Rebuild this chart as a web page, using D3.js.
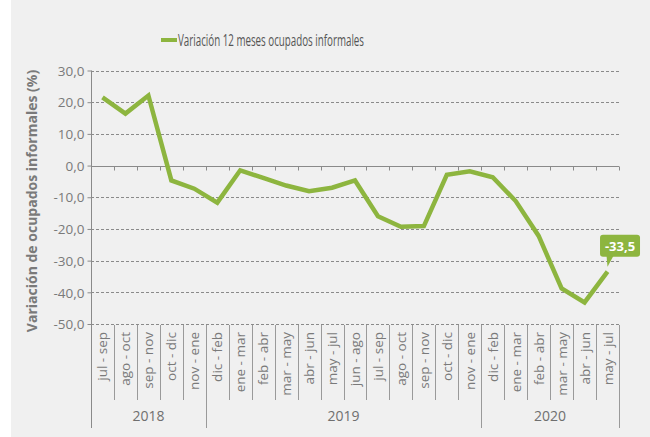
<!DOCTYPE html>
<html><head><meta charset="utf-8">
<script src="https://cdn.jsdelivr.net/npm/d3@7"></script>
<style>
html,body{margin:0;padding:0;background:#fff;}
svg{display:block;}
text{font-family:"Open Sans",sans-serif;}
</style></head>
<body>
<svg id="c" width="650" height="437"></svg>
<script>
const categories = ["jul - sep","ago - oct","sep - nov","oct - dic","nov - ene",
  "dic - feb","ene - mar","feb - abr","mar - may","abr - jun","may - jul","jun - ago","jul - sep","ago - oct","sep - nov","oct - dic","nov - ene",
  "dic - feb","ene - mar","feb - abr","mar - may","abr - jun","may - jul"];
const values = [21.5,16.4,22.1,-4.7,-7.3,-11.7,-1.5,-3.9,-6.3,-8.1,-7.0,-4.7,-16.0,-19.3,-19.1,-2.9,-1.8,-3.7,-11.2,-22.2,-38.8,-43.2,-33.5];
const years = ["2018","2019","2020"];
const yearCounts = [5,12,6];
const yTicks = [30,20,10,0,-10,-20,-30,-40,-50];
const seriesName = "Variación 12 meses ocupados informales";
const yTitle = "Variación de ocupados informales (%)";
const lastLabel = "-33,5";

const green = "#8db53f";
const svg = d3.select("#c");
svg.append("rect").attr("x",11).attr("y",0).attr("width",639).attr("height",437).attr("fill","#f0f0f0");

const x0 = 91, x1 = 619, yTop = 70.5, yBot = 324;
const x = d3.scaleBand().domain(d3.range(categories.length)).range([x0,x1]).padding(0);
const y = d3.scaleLinear().domain([-50,30]).range([yBot,yTop]);

// grid
const g = svg.append("g");
yTicks.forEach(t=>{
  if(t===0) return;
  g.append("line").attr("x1",x0).attr("x2",x1).attr("y1",Math.round(y(t))+0.5).attr("y2",Math.round(y(t))+0.5)
   .attr("stroke","#8a8a8a").attr("stroke-width",1).attr("stroke-dasharray","3,2");
});
// y axis
const yAxis = d3.axisLeft(y).tickValues(yTicks).tickSize(4).tickFormat(d=>d3.format(".1f")(d).replace(".",",").replace("−","-"));
const ya = svg.append("g").attr("transform",`translate(${x0+0.5},0)`).call(yAxis);
ya.select(".domain").remove();
ya.selectAll(".tick line").attr("stroke","#8a8a8a");
ya.selectAll(".tick text").attr("fill","#7a7a7a").style("font-size","13.5px").attr("x",-7).attr("dy","0.35em");
svg.append("line").attr("x1",x0+0.5).attr("x2",x0+0.5).attr("y1",yTop).attr("y2",428).attr("stroke","#8a8a8a");

// zero axis with ticks
const zy = Math.round(y(0))+0.5;
svg.append("line").attr("x1",x0).attr("x2",x1).attr("y1",zy).attr("y2",zy).attr("stroke","#8a8a8a");
d3.range(categories.length+1).forEach(i=>{
  const xx = Math.round(x0 + i*x.step())+0.5;
  svg.append("line").attr("x1",xx).attr("x2",xx).attr("y1",zy).attr("y2",zy+4).attr("stroke","#8a8a8a");
});

// category labels and separators
categories.forEach((c,i)=>{
  const cx = x(i)+x.bandwidth()/2;
  svg.append("text").attr("transform",`translate(${cx+5},332) rotate(-90)`)
    .attr("text-anchor","end").attr("fill","#7a7a7a").style("font-size","13.5px").text(c);
  if(i>0){
    const xx = Math.round(x(i))+0.5;
    svg.append("line").attr("x1",xx).attr("x2",xx).attr("y1",325).attr("y2",400).attr("stroke","#9a9a9a");
  }
});
svg.append("line").attr("x1",x1+0.5).attr("x2",x1+0.5).attr("y1",325).attr("y2",428).attr("stroke","#9a9a9a");
// year groups
let start = 0;
years.forEach((yr,k)=>{
  const a = x0 + start*x.step(), b = x0 + (start+yearCounts[k])*x.step();
  svg.append("text").attr("x",(a+b)/2).attr("y",421).attr("text-anchor","middle")
    .attr("fill","#6f6f6f").style("font-size","14px").text(yr);
  start += yearCounts[k];
  if(k<years.length-1){
    const xx = Math.round(b)+0.5;
    svg.append("line").attr("x1",xx).attr("x2",xx).attr("y1",400).attr("y2",428).attr("stroke","#9a9a9a");
  }
});

// line
const line = d3.line().x((d,i)=>x(i)+x.bandwidth()/2).y(d=>y(d));
svg.append("path").datum(values).attr("d",line).attr("fill","none").attr("stroke",green)
  .attr("stroke-width",4.5).attr("stroke-linejoin","miter");

// callout
const li = values.length-1;
const px = x(li)+x.bandwidth()/2, py = y(values[li]);
const cg = svg.append("g");
cg.append("rect").attr("x",px-7.5).attr("y",py-37).attr("width",40).attr("height",22).attr("rx",3).attr("fill",green);
cg.append("path").attr("d",`M${px-1},${py-16} L${px+6},${py-16} L${px},${py-5} Z`).attr("fill",green);
cg.append("text").attr("x",px+12.5).attr("y",py-21).attr("text-anchor","middle").attr("fill","#fff")
  .style("font-size","13px").style("font-weight","bold").text(lastLabel);

// legend
svg.append("line").attr("x1",161).attr("x2",177).attr("y1",40).attr("y2",40).attr("stroke",green).attr("stroke-width",4);
svg.append("text").attr("x",178).attr("y",45.5).attr("fill","#555").style("font-size","16px")
  .attr("textLength",186).attr("lengthAdjust","spacingAndGlyphs").text(seriesName);

// y title
svg.append("text").attr("transform","translate(37,201) rotate(-90)").attr("text-anchor","middle")
  .attr("fill","#7a7a7a").style("font-size","14px").style("font-weight","bold").text(yTitle);
</script>
</body></html>
